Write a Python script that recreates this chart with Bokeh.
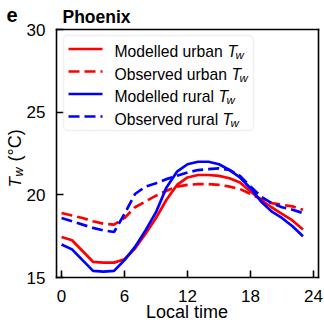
import numpy as np
from bokeh.plotting import figure
from bokeh.models import Range1d, FixedTicker, Label, BoxAnnotation, Arrow, LinearAxis
from bokeh.embed import file_html
from bokeh.resources import INLINE

# ---------------- data ----------------
hours = list(range(24))
modelled_urban = [17.45, 17.25, 16.6, 15.95, 15.9, 15.9, 16.1, 16.75, 17.65, 18.6, 19.7, 20.6,
                  21.05, 21.2, 21.2, 21.15, 21.0, 20.75, 20.2, 19.7, 19.25, 18.85, 18.45, 17.9]
observed_urban = [18.9, 18.75, 18.6, 18.4, 18.25, 18.2, 18.6, 19.25, 19.6, 19.95, 20.25, 20.5,
                  20.6, 20.65, 20.65, 20.6, 20.5, 20.35, 20.05, 19.75, 19.5, 19.4, 19.3, 19.1]
modelled_rural = [17.0, 16.7, 16.05, 15.4, 15.35, 15.4, 16.05, 16.85, 17.85, 18.95, 20.45, 21.4,
                  21.85, 22.0, 22.0, 21.85, 21.5, 21.05, 20.4, 19.6, 19.0, 18.6, 18.1, 17.5]
observed_rural = [18.6, 18.4, 18.2, 18.0, 17.85, 17.75, 18.85, 20.05, 20.5, 20.7, 20.95, 21.15,
                  21.35, 21.5, 21.55, 21.6, 21.5, 21.15, 20.5, 19.9, 19.5, 19.25, 19.1, 18.9]
x_ticks = [0, 6, 12, 18, 24]
y_ticks = [15, 20, 25, 30]
x_limits = (-0.48, 24.48)
y_limits = (15, 30)
series_names = ["Modelled urban ", "Observed urban ", "Modelled rural ", "Observed rural "]
series_colors = ["#ff0000", "#ff0000", "#0000ff", "#0000ff"]
series_dashed = [False, True, False, True]
title_text = "Phoenix"
panel_letter = "e"
x_label = "Local time"
y_label_unit = "(°C)"

FONT = "Liberation Sans"
W, H = 324, 320
# axes box in canvas pixels
BL, BR, BT, BB = 56, 318, 29, 277
kx = (BR - BL) / (x_limits[1] - x_limits[0])
ky = (BB - BT) / (y_limits[1] - y_limits[0])
x_range = Range1d(x_limits[0] - BL / kx, x_limits[1] + (W - BR) / kx)
y_range = Range1d(y_limits[0] - (H - BB) / ky, y_limits[1] + BT / ky)


def sx(cx):
    return cx


def sy(cy):
    return H - cy


p = figure(width=W, height=H, x_range=x_range, y_range=y_range,
           output_backend="svg", toolbar_location=None,
           x_axis_location=None, y_axis_location=None,
           min_border_left=0, min_border_right=0, min_border_top=0, min_border_bottom=0)
p.title.visible = False
p.grid.visible = False
p.background_fill_color = "white"
p.border_fill_color = "white"
p.outline_line_color = None


def make_axis(loc, bounds, ticks, labels=True):
    ax = LinearAxis(fixed_location=loc, bounds=bounds, ticker=FixedTicker(ticks=ticks, minor_ticks=[]))
    ax.axis_line_width = 1.6
    ax.axis_line_cap = "square"
    ax.major_tick_line_width = 1.6
    ax.major_tick_in = 7
    ax.major_tick_out = 0
    ax.minor_tick_line_color = None
    ax.major_label_text_font = FONT
    ax.major_label_text_font_size = "17px"
    ax.major_label_text_color = "black"
    if not labels:
        ax.major_label_text_alpha = 0
        ax.major_tick_line_color = None
    return ax


xax = make_axis(y_limits[0], x_limits, x_ticks)
xax.major_label_standoff = 12
p.add_layout(xax, "below")
yax = make_axis(x_limits[0], y_limits, y_ticks)
yax.major_label_standoff = 11
p.add_layout(yax, "left")
p.add_layout(make_axis(y_limits[1], x_limits, [], labels=False), "above")
p.add_layout(make_axis(x_limits[1], y_limits, [], labels=False), "right")

data = [modelled_urban, observed_urban, modelled_rural, observed_rural]
for vals, col, dashed in zip(data, series_colors, series_dashed):
    p.line(hours, vals, line_color=col, line_width=2.7,
           line_dash="11 5" if dashed else "solid")

# legend box
p.add_layout(BoxAnnotation(left=sx(63), right=sx(253), top=sy(35), bottom=sy(130),
                           left_units="screen", right_units="screen",
                           top_units="screen", bottom_units="screen",
                           fill_color="white", fill_alpha=0.85,
                           line_color="#cccccc", line_width=1.5, border_radius=4))

SH = 4  # baseline correction
leg_base = [55, 77.5, 100, 122.5]
t_pos = [227, 231, 218, 222]
for name, col, dashed, yb, tx in zip(series_names, series_colors, series_dashed, leg_base, t_pos):
    yc = yb - 6.5
    p.add_layout(Arrow(x_start=sx(68), y_start=sy(yc), x_end=sx(102), y_end=sy(yc),
                       start_units="screen", end_units="screen", end=None,
                       line_color=col, line_width=2.7,
                       line_dash="11 5" if dashed else "solid"))
    p.add_layout(Label(x=sx(114), y=sy(yb - SH), x_units="screen", y_units="screen", text=name,
                       text_font=FONT, text_font_size="15.7px", text_baseline="alphabetic",
                       text_align="left", text_color="black"))
    p.add_layout(Label(x=sx(tx), y=sy(yb - SH), x_units="screen", y_units="screen", text="T",
                       text_font=FONT, text_font_size="15.7px", text_font_style="italic",
                       text_baseline="alphabetic", text_align="left", text_color="black"))
    p.add_layout(Label(x=sx(tx + 8), y=sy(yb + 3.5 - SH), x_units="screen", y_units="screen", text="w",
                       text_font=FONT, text_font_size="11.5px", text_font_style="italic",
                       text_baseline="alphabetic", text_align="left", text_color="black"))

# y-axis label pieces (rotated)
p.add_layout(Label(x=sx(18.5 - SH), y=sy(187), x_units="screen", y_units="screen", text="T",
                   angle=np.pi / 2, text_font=FONT, text_font_size="17px", text_font_style="italic",
                   text_baseline="alphabetic", text_align="left", text_color="black"))
p.add_layout(Label(x=sx(22 - SH), y=sy(176), x_units="screen", y_units="screen", text="w",
                   angle=np.pi / 2, text_font=FONT, text_font_size="12.5px", text_font_style="italic",
                   text_baseline="alphabetic", text_align="left", text_color="black"))
p.add_layout(Label(x=sx(18.5 - SH), y=sy(161), x_units="screen", y_units="screen", text=y_label_unit,
                   angle=np.pi / 2, text_font=FONT, text_font_size="18px",
                   text_baseline="alphabetic", text_align="left", text_color="black"))

# x-axis label
p.add_layout(Label(x=sx(186.5), y=sy(316 - SH - 1), x_units="screen", y_units="screen", text=x_label,
                   text_font=FONT, text_font_size="18px", text_baseline="alphabetic",
                   text_align="center", text_color="black"))

# title and panel letter
p.add_layout(Label(x=sx(62), y=sy(20.5 - SH), x_units="screen", y_units="screen", text=title_text,
                   text_font=FONT, text_font_size="17.5px", text_font_style="bold",
                   text_baseline="alphabetic", text_align="left", text_color="black"))
p.add_layout(Label(x=sx(6), y=sy(18.5 - SH), x_units="screen", y_units="screen", text=panel_letter,
                   text_font=FONT, text_font_size="20px", text_font_style="bold",
                   text_baseline="alphabetic", text_align="left", text_color="black"))

open("out.html", "w").write(file_html(p, INLINE))
